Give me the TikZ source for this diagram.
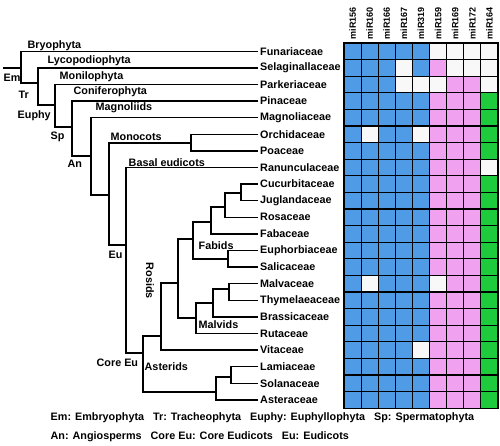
\documentclass[tikz,border=0pt]{standalone}
\usepackage{fontspec}
\setmainfont{Liberation Sans}
\definecolor{colb}{HTML}{4F9BE6}
\definecolor{colp}{HTML}{F0A2F0}
\definecolor{colg}{HTML}{1ECB3C}
\definecolor{colw}{HTML}{F8F8F8}

\begin{document}
\begin{tikzpicture}[x=1pt,y=-1pt,line width=1.4pt]
   \useasboundingbox (0,0) rectangle (500,446);
   \tikzstyle{leaf}=[anchor=west, inner sep=1.5pt, font=\bfseries\fontsize{10.8}{12}\selectfont]
   \tikzstyle{clade}=[anchor=west, inner sep=0pt, font=\bfseries\fontsize{10.8}{12}\selectfont]
   \tikzstyle{head}=[anchor=west, rotate=90, inner sep=1pt, font=\bfseries\fontsize{9}{10}\selectfont]
   \tikzstyle{cell}=[draw=black, line width=1.2pt, minimum width=17.1pt, minimum height=16.6pt, inner sep=0pt]
   % families
   \foreach \i/\fam in {1/Funariaceae,2/Selaginallaceae,3/Parkeriaceae,4/Pinaceae,5/Magnoliaceae,
       6/Orchidaceae,7/Poaceae,8/Ranunculaceae,9/Cucurbitaceae,10/Juglandaceae,11/Rosaceae,
       12/Fabaceae,13/Euphorbiaceae,14/Salicaceae,15/Malvaceae,16/Thymelaeaceae,17/Brassicaceae,
       18/Rutaceae,19/Vitaceae,20/Lamiaceae,21/Solanaceae,22/Asteraceae} {
       \node[leaf] (f\i) at (258,{43+16.6*(\i-0.5)}) {\fam};
   }
   % miRNA columns
   \foreach \j/\mir in {1/miR156,2/miR160,3/miR166,4/miR167,5/miR319,6/miR159,7/miR169,8/miR172,9/miR164} {
       \node[head] (h\j) at ({344+17.1*(\j-0.5)},41) {\mir};
   }
   \foreach \r/\row in {1/{b,b,b,b,b,w,w,w,w},2/{b,b,b,w,b,p,w,w,w},3/{b,b,b,w,w,w,p,p,w},
       4/{b,b,b,b,b,p,p,p,g},5/{b,b,b,b,b,p,p,p,g},6/{b,w,b,b,w,p,p,p,g},7/{b,b,b,b,b,p,p,p,g},
       8/{b,b,b,b,b,p,p,p,w},9/{b,b,b,b,b,p,p,p,g},10/{b,b,b,b,b,p,p,p,g},11/{b,b,b,b,b,p,p,p,g},
       12/{b,b,b,b,b,p,p,p,g},13/{b,b,b,b,b,p,p,p,g},14/{b,b,b,b,b,p,p,p,g},15/{b,w,b,b,b,w,p,p,g},
       16/{b,b,b,b,b,p,p,p,g},17/{b,b,b,b,b,p,p,p,g},18/{b,b,b,b,b,p,p,p,g},19/{b,b,b,b,w,p,p,p,g},
       20/{b,b,b,b,b,p,p,p,g},21/{b,b,b,b,b,p,p,p,g},22/{b,b,b,b,b,p,p,p,g}} {
       \foreach \c [count=\j] in \row {
           \node[cell, fill=col\c] (c\r-\j) at ({344+17.1*(\j-0.5)},{43+16.6*(\r-0.5)}) {};
       }
   }
   % tree
   \coordinate (stub) at (3,68);
   \coordinate (root) at (21,68);
   \coordinate (tr) at (38,83);
   \coordinate (euphy) at (55,105);
   \coordinate (sp) at (72,127);
   \coordinate (an) at (91,156);
   \coordinate (monoeu) at (109,195);
   \coordinate (mono) at (191,143);
   \coordinate (eu) at (126,245);
   \coordinate (coreeu) at (143,353);
   \coordinate (rosids) at (161,336);
   \coordinate (r1) at (178,283);
   \coordinate (fabids) at (193,239);
   \coordinate (fa1) at (211,222);
   \coordinate (fa3) at (225,207);
   \coordinate (fa4) at (241,193);
   \coordinate (fa2) at (228,259);
   \coordinate (malvids) at (196,318);
   \coordinate (ma1) at (213,303);
   \coordinate (ma2) at (229,289);
   \coordinate (asterids) at (216,392);
   \coordinate (as1) at (231,377);
   \draw (stub) -- (root);
   \draw (f1.west) -| (root) |- (tr);
   \draw (f2.west) -| (tr) |- (euphy);
   \draw (f3.west) -| (euphy) |- (sp);
   \draw (f4.west) -| (sp) |- (an);
   \draw (f5.west) -| (an) |- (monoeu);
   \draw (mono) -| (monoeu) |- (eu);
   \draw (f6.west) -| (mono) |- (f7.west);
   \draw (f8.west) -| (eu) |- (coreeu);
   \draw (rosids) -| (coreeu) |- (asterids);
   \draw (r1) -| (rosids) |- (f19.west);
   \draw (fabids) -| (r1) |- (malvids);
   \draw (fa1) -| (fabids) |- (fa2);
   \draw (fa3) -| (fa1) |- (f12.west);
   \draw (fa4) -| (fa3) |- (f11.west);
   \draw (f9.west) -| (fa4) |- (f10.west);
   \draw (f13.west) -| (fa2) |- (f14.west);
   \draw (ma1) -| (malvids) |- (f18.west);
   \draw (ma2) -| (ma1) |- (f17.west);
   \draw (f15.west) -| (ma2) |- (f16.west);
   \draw (as1) -| (asterids) |- (f22.west);
   \draw (f20.west) -| (as1) |- (f21.west);
   % clade names
   \node[clade] (lbryo) at (27,46) {Bryophyta};
   \node[clade] (llyco) at (47,61) {Lycopodiophyta};
   \node[clade] (lmoni) at (59,77) {Monilophyta};
   \node[clade] (lconi) at (73,92) {Coniferophyta};
   \node[clade] (lmagn) at (95,108) {Magnoliids};
   \node[clade] (lmono) at (110,137) {Monocots};
   \node[clade] (lbasal) at (128,163) {Basal eudicots};
   \node[clade] (lfab) at (198,246) {Fabids};
   \node[clade] (lmal) at (198,325) {Malvids};
   \node[clade] (last) at (144,367) {Asterids};
   \node[clade, anchor=center, rotate=-90] (lros) at (150,281) {Rosids};
   \node[clade] (lem) at (3,78) {Em};
   \node[clade] (ltr) at (18,95) {Tr};
   \node[clade] (leuphy) at (17,116) {Euphy};
   \node[clade] (lsp) at (50,137) {Sp};
   \node[clade] (lan) at (67,164) {An};
   \node[clade] (leu) at (108,255) {Eu};
   \node[clade] (lcore) at (96,363) {Core Eu};
   % key
   \node[clade] (key1) at (50,418) {Em: Embryophyta\hspace{9pt}Tr: Tracheophyta\hspace{9pt}Euphy: Euphyllophyta\hspace{9pt}Sp: Spermatophyta};
   \node[clade] (key2) at (50,437) {An: Angiosperms\hspace{9pt}Core Eu: Core Eudicots\hspace{9pt}Eu: Eudicots};
\end{tikzpicture}
\end{document}
